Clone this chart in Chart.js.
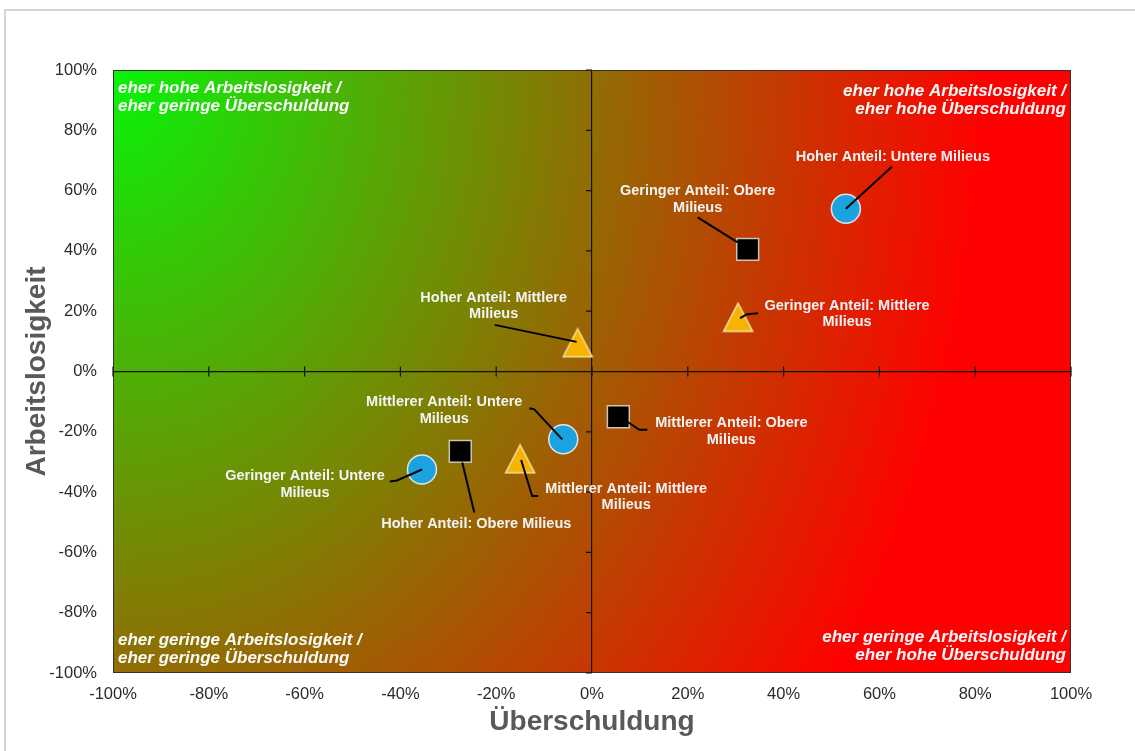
<!DOCTYPE html>
<html lang="de">
<head>
<meta charset="utf-8">
<title>Arbeitslosigkeit und Überschuldung nach Milieus</title>
<script src="https://cdn.jsdelivr.net/npm/chart.js@4.4.1/dist/chart.umd.min.js"></script>
<style>
    html, body { margin: 0; padding: 0; background: #fff; overflow: hidden; }
    #rahmen {
        position: absolute; left: 4px; top: 9px; width: 1200px; height: 800px;
        border-top: 2px solid #d6d6d6; border-left: 2px solid #d6d6d6;
    }
    #behaelter { position: absolute; left: 0; top: 0; width: 1135px; height: 751px; }
</style>
</head>
<body>
<div id="rahmen"></div>
<div id="behaelter"><canvas id="graphiqueMilieus"></canvas></div>
<script>
// Werte: Anteil Hoch / Mittel / Gering je Milieu (x = Überschuldung, y = Arbeitslosigkeit)
const ANTEILE   = ['Hoher', 'Mittlerer', 'Geringer'];
const MILIEUS   = ['Untere Milieus', 'Mittlere Milieus', 'Obere Milieus'];
const untereX   = [0.53, -0.06, -0.355];
const untereY   = [0.54, -0.225, -0.325];
const mittlereX = [-0.03, -0.15, 0.305];
const mittlereY = [0.095, -0.29, 0.18];
const obereX    = [-0.275, 0.055, 0.325];
const obereY    = [-0.265, -0.15, 0.405];
const ACHSE_MIN = -1, ACHSE_MAX = 1, ACHSE_SCHRITT = 0.2;

const QUADRANTEN = [
    ['eher hohe Arbeitslosigkeit /', 'eher geringe Überschuldung'],
    ['eher hohe Arbeitslosigkeit /', 'eher hohe Überschuldung'],
    ['eher geringe Arbeitslosigkeit /', 'eher geringe Überschuldung'],
    ['eher geringe Arbeitslosigkeit /', 'eher hohe Überschuldung'],
];

const SCHRIFT = '"Liberation Sans", Arial, sans-serif';

// Beschriftung je Punkt: Versatz der Textmitte und Führungslinie (Pixel relativ zum Marker)
const PLATZIERUNG = [
    [   // Untere Milieus
        { dx: 47,   dy: -52,  umbruch: false, linie: [[0, 0], [46, -42]] },
        { dx: -119, dy: -29,  umbruch: true,  linie: [[-1, 0], [-29, -30], [-34, -31]] },
        { dx: -117, dy: 15,   umbruch: true,  linie: [[0, 0], [-25, 11], [-32, 12]] },
    ],
    [   // Mittlere Milieus
        { dx: -84,  dy: -37,  umbruch: true,  linie: [[-1, -1], [-83, -18]] },
        { dx: 106,  dy: 38,   umbruch: true,  linie: [[1, 1], [12, 37], [18, 37]] },
        { dx: 109,  dy: -3,   umbruch: true,  linie: [[2, 1], [9, -3], [20, -4]] },
    ],
    [   // Obere Milieus
        { dx: 16,   dy: 73,   umbruch: false, linie: [[2, 11], [14, 61]] },
        { dx: 113,  dy: 15,   umbruch: true,  linie: [[9, 5], [21, 13], [29, 13]] },
        { dx: -50,  dy: -50,  umbruch: true,  linie: [[-10, -7], [-50, -32]] },
    ],
];

function punkte(xs, ys) {
    return xs.map((x, i) => ({ x, y: ys[i] }));
}

// Dreiecksmarker als eigenes Bild, damit er mittig auf dem Wert sitzt
function dreieck() {
    const c = document.createElement('canvas');
    c.width = 32; c.height = 31;
    const g = c.getContext('2d');
    g.beginPath();
    g.moveTo(16, 1.5);
    g.lineTo(30.5, 29.5);
    g.lineTo(1.5, 29.5);
    g.closePath();
    g.fillStyle = '#f6b400';
    g.fill();
    g.lineWidth = 1.5;
    g.strokeStyle = '#f3e2a6';
    g.stroke();
    return c;
}

const hintergrund = {
    id: 'hintergrund',
    beforeDraw(chart) {
        const { ctx, chartArea: a } = chart;
        const w = a.right - a.left, h = a.bottom - a.top;
        // elliptischer Verlauf von der linken oberen Ecke aus
        const rx = w * 0.91, ry = h * 1.8;
        const grad = ctx.createRadialGradient(0, 0, 0, 0, 0, rx);
        grad.addColorStop(0, '#08f408');
        grad.addColorStop(1, '#ff0000');
        ctx.save();
        ctx.beginPath();
        ctx.rect(a.left, a.top, w, h);
        ctx.clip();
        ctx.translate(a.left, a.top);
        ctx.scale(1, ry / rx);
        ctx.fillStyle = grad;
        ctx.fillRect(0, 0, w, h * rx / ry);
        ctx.restore();
    },
    beforeDatasetsDraw(chart) {
        const { ctx, chartArea: a, scales: { x, y } } = chart;
        const x0 = x.getPixelForValue(0), y0 = y.getPixelForValue(0);
        ctx.save();
        ctx.strokeStyle = '#333';
        ctx.lineWidth = 1;
        ctx.strokeRect(a.left + 0.5, a.top + 0.5, a.right - a.left - 1, a.bottom - a.top - 1);

        // Teilstriche an den Nullachsen
        ctx.strokeStyle = '#111';
        ctx.lineWidth = 1.2;
        ctx.beginPath();
        x.ticks.forEach(t => {
            const px = x.getPixelForValue(t.value);
            ctx.moveTo(px, y0 - 5); ctx.lineTo(px, y0 + 5);
        });
        y.ticks.forEach(t => {
            const py = y.getPixelForValue(t.value);
            ctx.moveTo(x0 - 6, py); ctx.lineTo(x0, py);
        });
        ctx.stroke();
        ctx.restore();
    },
};

const beschriftung = {
    id: 'beschriftung',
    afterDatasetsDraw(chart) {
        const { ctx, chartArea: a } = chart;
        ctx.save();

        // Quadrantentexte
        ctx.font = `italic bold 17px ${SCHRIFT}`;
        ctx.fillStyle = '#fafafa';
        ctx.textBaseline = 'middle';
        const ecken = [
            { x: a.left + 5,  y: a.top + 18,    align: 'left' },
            { x: a.right - 5, y: a.top + 21,    align: 'right' },
            { x: a.left + 5,  y: a.bottom - 33, align: 'left' },
            { x: a.right - 5, y: a.bottom - 36, align: 'right' },
        ];
        QUADRANTEN.forEach((zeilen, i) => {
            ctx.textAlign = ecken[i].align;
            zeilen.forEach((z, k) => ctx.fillText(z, ecken[i].x, ecken[i].y + k * 18));
        });

        // Punktbeschriftungen mit Führungslinien
        ctx.font = `bold 14.5px ${SCHRIFT}`;
        ctx.textAlign = 'center';
        chart.data.datasets.forEach((ds, d) => {
            const meta = chart.getDatasetMeta(d);
            meta.data.forEach((p, j) => {
                const pl = PLATZIERUNG[d][j];
                ctx.strokeStyle = '#000';
                ctx.lineWidth = 2;
                ctx.beginPath();
                pl.linie.forEach(([lx, ly], k) => {
                    if (k === 0) ctx.moveTo(p.x + lx, p.y + ly);
                    else ctx.lineTo(p.x + lx, p.y + ly);
                });
                ctx.stroke();

                const text = `${ANTEILE[j]} Anteil: ${ds.label}`;
                let zeilen = [text];
                if (pl.umbruch) {
                    const cut = text.lastIndexOf(' ');
                    zeilen = [text.slice(0, cut), text.slice(cut + 1)];
                }
                const start = p.y + pl.dy - (zeilen.length - 1) * 8.25;
                ctx.fillStyle = '#f4f4f4';
                zeilen.forEach((z, k) => ctx.fillText(z, p.x + pl.dx, start + k * 16.5));
            });
        });
        ctx.restore();
    },
};

function nullLinie(c) {
    return c.tick && Math.abs(c.tick.value) < 1e-9 ? '#111' : 'rgba(0,0,0,0)';
}

const achsenTicks = {
    color: '#2b2b2b',
    font: { family: SCHRIFT, size: 16.5 },
    callback: v => Math.round(v * 100) + '%',
};

function creerGraphiqueMilieus() {
    const ctx = document.getElementById('graphiqueMilieus');
    new Chart(ctx, {
        type: 'scatter',
        data: {
            datasets: [
                {
                    label: MILIEUS[0],
                    data: punkte(untereX, untereY),
                    pointStyle: 'circle',
                    pointRadius: 14.5,
                    pointHoverRadius: 14.5,
                    backgroundColor: '#1ba3df',
                    borderColor: '#e4e4e4',
                    borderWidth: 1.5,
                },
                {
                    label: MILIEUS[1],
                    data: punkte(mittlereX, mittlereY),
                    pointStyle: dreieck(),
                },
                {
                    label: MILIEUS[2],
                    data: punkte(obereX, obereY),
                    pointStyle: 'rect',
                    pointRadius: 15.5,
                    pointHoverRadius: 15.5,
                    backgroundColor: '#000',
                    borderColor: '#cbc3b5',
                    borderWidth: 1.5,
                },
            ]
        },
        options: {
            responsive: true,
            maintainAspectRatio: false,
            animation: false,
            events: [],
            layout: { padding: { top: 70, right: 64, left: 0, bottom: 0 } },
            plugins: { legend: { display: false }, tooltip: { enabled: false } },
            scales: {
                x: {
                    type: 'linear', min: ACHSE_MIN, max: ACHSE_MAX,
                    afterFit: s => { s.height = 78; },
                    grid: { drawTicks: false, color: nullLinie, lineWidth: 1.2 },
                    border: { display: false },
                    ticks: { ...achsenTicks, stepSize: ACHSE_SCHRITT, padding: 12, maxRotation: 0 },
                    title: {
                        display: true, text: 'Überschuldung', color: '#595959',
                        font: { family: SCHRIFT, size: 28, weight: 'bold' },
                        padding: { top: 0, bottom: 12 },
                    },
                },
                y: {
                    type: 'linear', min: ACHSE_MIN, max: ACHSE_MAX,
                    afterFit: s => { s.width = 113; },
                    grid: { drawTicks: false, color: nullLinie, lineWidth: 1.2 },
                    border: { display: false },
                    ticks: { ...achsenTicks, stepSize: ACHSE_SCHRITT, padding: 16 },
                    title: {
                        display: true, text: 'Arbeitslosigkeit', color: '#595959',
                        font: { family: SCHRIFT, size: 28, weight: 'bold' },
                        padding: { top: 20, bottom: 0 },
                    },
                },
            },
        },
        plugins: [hintergrund, beschriftung],
    });
}

document.addEventListener('DOMContentLoaded', creerGraphiqueMilieus);
</script>
</body>
</html>
